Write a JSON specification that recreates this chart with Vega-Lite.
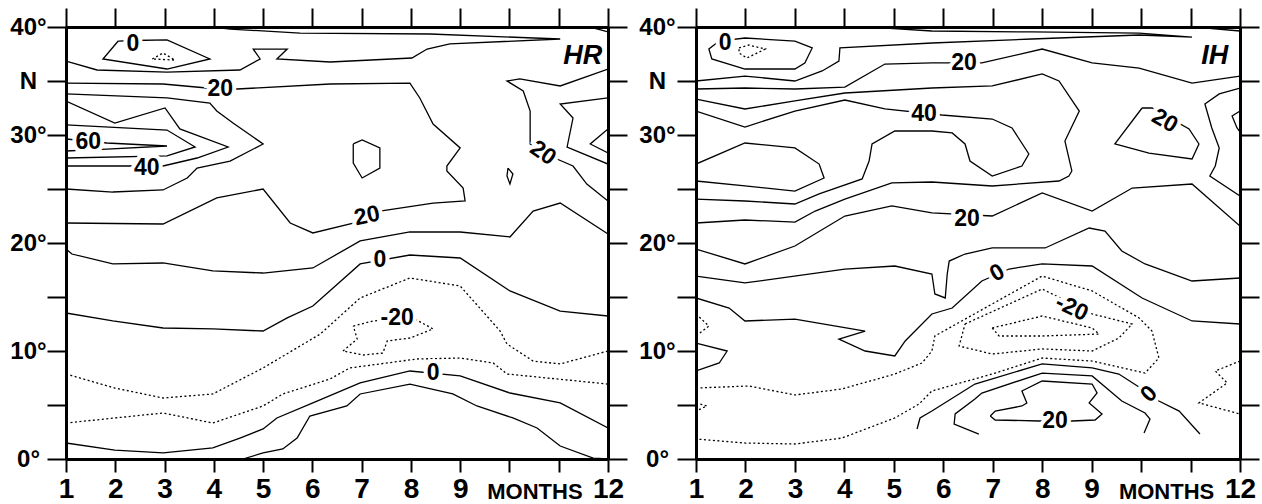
{
"$schema": "https://vega.github.io/schema/vega-lite/v6.json",
"background": "white",
"padding": {"left": 9, "top": 7, "right": 2, "bottom": 0},
"spacing": 10,
"config": {
  "view": {"stroke": null},
  "font": "Liberation Sans",
  "axis": {"domainColor": "black", "domainWidth": 3, "tickColor": "black", "tickWidth": 2, "labelColor": "black", "labelFont": "Liberation Sans", "labelFontWeight": "bold", "grid": false, "title": null, "labelOverlap": false, "labelFlush": false, "labelBound": false}
},
"datasets": {
"lines": [
{"p":"L","c":"L01","o":0,"m":2.06,"lat":38.70,"d":0},{"p":"L","c":"L01","o":1,"m":1.75,"lat":37.04,"d":0},{"p":"L","c":"L01","o":2,"m":3.05,"lat":36.11,"d":0},{"p":"L","c":"L01","o":3,"m":3.92,"lat":37.04,"d":0},{"p":"L","c":"L01","o":4,"m":3.05,"lat":38.80,"d":0},{"p":"L","c":"L01","o":5,"m":2.36,"lat":38.75,"d":0},{"p":"L","c":"L01","o":6,"m":2.06,"lat":38.70,"d":0},
{"p":"L","c":"L02","o":0,"m":2.75,"lat":37.04,"d":1},{"p":"L","c":"L02","o":1,"m":2.97,"lat":37.59,"d":1},{"p":"L","c":"L02","o":2,"m":3.21,"lat":36.94,"d":1},{"p":"L","c":"L02","o":3,"m":2.75,"lat":37.04,"d":1},
{"p":"L","c":"L03","o":0,"m":1.0,"lat":36.85,"d":0},{"p":"L","c":"L03","o":1,"m":1.63,"lat":36.02,"d":0},{"p":"L","c":"L03","o":2,"m":3.05,"lat":35.83,"d":0},{"p":"L","c":"L03","o":3,"m":4.53,"lat":36.02,"d":0},{"p":"L","c":"L03","o":4,"m":4.94,"lat":37.04,"d":0},{"p":"L","c":"L03","o":5,"m":4.80,"lat":37.96,"d":0},{"p":"L","c":"L03","o":6,"m":5.49,"lat":37.96,"d":0},{"p":"L","c":"L03","o":7,"m":5.28,"lat":37.04,"d":0},{"p":"L","c":"L03","o":8,"m":6.36,"lat":36.76,"d":0},{"p":"L","c":"L03","o":9,"m":8.02,"lat":37.13,"d":0},{"p":"L","c":"L03","o":10,"m":8.33,"lat":37.96,"d":0},{"p":"L","c":"L03","o":11,"m":8.79,"lat":38.43,"d":0},{"p":"L","c":"L03","o":12,"m":11.03,"lat":38.89,"d":0},{"p":"L","c":"L03","o":13,"m":8.39,"lat":39.35,"d":0},{"p":"L","c":"L03","o":14,"m":5.75,"lat":39.44,"d":0},{"p":"L","c":"L03","o":15,"m":4.33,"lat":39.81,"d":0},{"p":"L","c":"L03","o":16,"m":4.0,"lat":40.0,"d":0},
{"p":"L","c":"L03b","o":0,"m":11.64,"lat":40.0,"d":0},{"p":"L","c":"L03b","o":1,"m":12.0,"lat":39.54,"d":0},
{"p":"L","c":"L04","o":0,"m":1.0,"lat":34.81,"d":0},{"p":"L","c":"L04","o":1,"m":2.97,"lat":34.72,"d":0},{"p":"L","c":"L04","o":2,"m":3.86,"lat":34.35,"d":0},{"p":"L","c":"L04","o":3,"m":4.47,"lat":34.26,"d":0},{"p":"L","c":"L04","o":4,"m":6.36,"lat":34.72,"d":0},{"p":"L","c":"L04","o":5,"m":7.98,"lat":34.81,"d":0},{"p":"L","c":"L04","o":6,"m":8.18,"lat":33.43,"d":0},{"p":"L","c":"L04","o":7,"m":8.45,"lat":31.02,"d":0},{"p":"L","c":"L04","o":8,"m":9.0,"lat":28.80,"d":0},{"p":"L","c":"L04","o":9,"m":8.73,"lat":27.13,"d":0},{"p":"L","c":"L04","o":10,"m":8.73,"lat":26.67,"d":0},{"p":"L","c":"L04","o":11,"m":9.06,"lat":25.09,"d":0},{"p":"L","c":"L04","o":12,"m":9.10,"lat":23.89,"d":0},{"p":"L","c":"L04","o":13,"m":8.45,"lat":23.70,"d":0},{"p":"L","c":"L04","o":14,"m":7.37,"lat":22.96,"d":0},{"p":"L","c":"L04","o":15,"m":6.83,"lat":21.85,"d":0},{"p":"L","c":"L04","o":16,"m":6.01,"lat":20.93,"d":0},{"p":"L","c":"L04","o":17,"m":5.55,"lat":21.85,"d":0},{"p":"L","c":"L04","o":18,"m":5.0,"lat":25.0,"d":0},{"p":"L","c":"L04","o":19,"m":4.06,"lat":24.17,"d":0},{"p":"L","c":"L04","o":20,"m":2.97,"lat":21.76,"d":0},{"p":"L","c":"L04","o":21,"m":1.0,"lat":21.85,"d":0},
{"p":"L","c":"L05","o":0,"m":1.0,"lat":33.80,"d":0},{"p":"L","c":"L05","o":1,"m":3.05,"lat":33.43,"d":0},{"p":"L","c":"L05","o":2,"m":3.92,"lat":32.96,"d":0},{"p":"L","c":"L05","o":3,"m":4.06,"lat":32.22,"d":0},{"p":"L","c":"L05","o":4,"m":4.39,"lat":31.11,"d":0},{"p":"L","c":"L05","o":5,"m":5.0,"lat":29.17,"d":0},{"p":"L","c":"L05","o":6,"m":4.33,"lat":27.59,"d":0},{"p":"L","c":"L05","o":7,"m":3.66,"lat":26.94,"d":0},{"p":"L","c":"L05","o":8,"m":3.46,"lat":26.02,"d":0},{"p":"L","c":"L05","o":9,"m":2.97,"lat":24.91,"d":0},{"p":"L","c":"L05","o":10,"m":1.95,"lat":24.72,"d":0},{"p":"L","c":"L05","o":11,"m":1.0,"lat":25.0,"d":0},
{"p":"L","c":"L06","o":0,"m":1.0,"lat":33.15,"d":0},{"p":"L","c":"L06","o":1,"m":1.99,"lat":31.11,"d":0},{"p":"L","c":"L06","o":2,"m":3.01,"lat":32.50,"d":0},{"p":"L","c":"L06","o":3,"m":3.31,"lat":30.56,"d":0},{"p":"L","c":"L06","o":4,"m":4.29,"lat":28.89,"d":0},{"p":"L","c":"L06","o":5,"m":3.66,"lat":27.87,"d":0},{"p":"L","c":"L06","o":6,"m":2.97,"lat":27.13,"d":0},{"p":"L","c":"L06","o":7,"m":2.24,"lat":27.13,"d":0},{"p":"L","c":"L06","o":8,"m":1.0,"lat":27.13,"d":0},
{"p":"L","c":"L07","o":0,"m":1.0,"lat":30.93,"d":0},{"p":"L","c":"L07","o":1,"m":3.05,"lat":30.46,"d":0},{"p":"L","c":"L07","o":2,"m":3.62,"lat":28.89,"d":0},{"p":"L","c":"L07","o":3,"m":3.05,"lat":28.06,"d":0},{"p":"L","c":"L07","o":4,"m":1.0,"lat":27.87,"d":0},
{"p":"L","c":"L08","o":0,"m":1.0,"lat":29.63,"d":0},{"p":"L","c":"L08","o":1,"m":1.83,"lat":29.26,"d":0},{"p":"L","c":"L08","o":2,"m":3.05,"lat":28.98,"d":0},{"p":"L","c":"L08","o":3,"m":1.83,"lat":28.70,"d":0},{"p":"L","c":"L08","o":4,"m":1.0,"lat":28.52,"d":0},
{"p":"L","c":"L09","o":0,"m":12.0,"lat":36.11,"d":0},{"p":"L","c":"L09","o":1,"m":11.03,"lat":34.54,"d":0},{"p":"L","c":"L09","o":2,"m":10.21,"lat":35.19,"d":0},{"p":"L","c":"L09","o":3,"m":9.95,"lat":35.0,"d":0},{"p":"L","c":"L09","o":4,"m":10.28,"lat":34.07,"d":0},{"p":"L","c":"L09","o":5,"m":10.42,"lat":32.22,"d":0},{"p":"L","c":"L09","o":6,"m":10.42,"lat":29.17,"d":0},{"p":"L","c":"L09","o":7,"m":10.68,"lat":28.33,"d":0},{"p":"L","c":"L09","o":8,"m":11.29,"lat":27.13,"d":0},{"p":"L","c":"L09","o":9,"m":11.57,"lat":25.46,"d":0},{"p":"L","c":"L09","o":10,"m":12.0,"lat":23.89,"d":0},
{"p":"L","c":"L10","o":0,"m":12.0,"lat":33.43,"d":0},{"p":"L","c":"L10","o":1,"m":11.03,"lat":32.87,"d":0},{"p":"L","c":"L10","o":2,"m":11.29,"lat":31.57,"d":0},{"p":"L","c":"L10","o":3,"m":11.17,"lat":28.89,"d":0},{"p":"L","c":"L10","o":4,"m":12.0,"lat":27.31,"d":0},
{"p":"L","c":"L11","o":0,"m":12.0,"lat":30.56,"d":0},{"p":"L","c":"L11","o":1,"m":11.64,"lat":29.17,"d":0},{"p":"L","c":"L11","o":2,"m":12.0,"lat":28.33,"d":0},
{"p":"L","c":"L12","o":0,"m":6.83,"lat":29.17,"d":0},{"p":"L","c":"L12","o":1,"m":7.01,"lat":29.54,"d":0},{"p":"L","c":"L12","o":2,"m":7.37,"lat":28.80,"d":0},{"p":"L","c":"L12","o":3,"m":7.37,"lat":26.94,"d":0},{"p":"L","c":"L12","o":4,"m":7.01,"lat":26.02,"d":0},{"p":"L","c":"L12","o":5,"m":6.83,"lat":27.41,"d":0},{"p":"L","c":"L12","o":6,"m":6.83,"lat":29.17,"d":0},
{"p":"L","c":"L13","o":0,"m":9.97,"lat":26.94,"d":0},{"p":"L","c":"L13","o":1,"m":10.07,"lat":26.39,"d":0},{"p":"L","c":"L13","o":2,"m":10.01,"lat":25.46,"d":0},{"p":"L","c":"L13","o":3,"m":9.95,"lat":26.20,"d":0},{"p":"L","c":"L13","o":4,"m":9.97,"lat":26.94,"d":0},
{"p":"L","c":"L14","o":0,"m":1.0,"lat":19.44,"d":0},{"p":"L","c":"L14","o":1,"m":1.12,"lat":18.98,"d":0},{"p":"L","c":"L14","o":2,"m":1.95,"lat":18.06,"d":0},{"p":"L","c":"L14","o":3,"m":2.97,"lat":18.15,"d":0},{"p":"L","c":"L14","o":4,"m":3.98,"lat":17.41,"d":0},{"p":"L","c":"L14","o":5,"m":5.0,"lat":17.22,"d":0},{"p":"L","c":"L14","o":6,"m":6.01,"lat":17.69,"d":0},{"p":"L","c":"L14","o":7,"m":6.97,"lat":20.19,"d":0},{"p":"L","c":"L14","o":8,"m":7.98,"lat":21.02,"d":0},{"p":"L","c":"L14","o":9,"m":9.0,"lat":21.02,"d":0},{"p":"L","c":"L14","o":10,"m":10.01,"lat":20.56,"d":0},{"p":"L","c":"L14","o":11,"m":10.48,"lat":22.96,"d":0},{"p":"L","c":"L14","o":12,"m":11.03,"lat":23.70,"d":0},{"p":"L","c":"L14","o":13,"m":12.0,"lat":20.83,"d":0},
{"p":"L","c":"L15","o":0,"m":1.0,"lat":13.52,"d":0},{"p":"L","c":"L15","o":1,"m":1.95,"lat":12.78,"d":0},{"p":"L","c":"L15","o":2,"m":2.97,"lat":12.13,"d":0},{"p":"L","c":"L15","o":3,"m":3.98,"lat":12.04,"d":0},{"p":"L","c":"L15","o":4,"m":5.0,"lat":11.85,"d":0},{"p":"L","c":"L15","o":5,"m":5.49,"lat":13.06,"d":0},{"p":"L","c":"L15","o":6,"m":6.01,"lat":14.17,"d":0},{"p":"L","c":"L15","o":7,"m":6.97,"lat":18.06,"d":0},{"p":"L","c":"L15","o":8,"m":7.98,"lat":18.89,"d":0},{"p":"L","c":"L15","o":9,"m":9.0,"lat":18.61,"d":0},{"p":"L","c":"L15","o":10,"m":10.01,"lat":15.56,"d":0},{"p":"L","c":"L15","o":11,"m":11.03,"lat":13.70,"d":0},{"p":"L","c":"L15","o":12,"m":12.0,"lat":13.24,"d":0},
{"p":"L","c":"L16","o":0,"m":1.0,"lat":7.87,"d":1},{"p":"L","c":"L16","o":1,"m":1.99,"lat":6.57,"d":1},{"p":"L","c":"L16","o":2,"m":2.97,"lat":5.65,"d":1},{"p":"L","c":"L16","o":3,"m":3.98,"lat":6.02,"d":1},{"p":"L","c":"L16","o":4,"m":5.0,"lat":8.43,"d":1},{"p":"L","c":"L16","o":5,"m":5.75,"lat":10.46,"d":1},{"p":"L","c":"L16","o":6,"m":6.16,"lat":11.57,"d":1},{"p":"L","c":"L16","o":7,"m":6.97,"lat":14.91,"d":1},{"p":"L","c":"L16","o":8,"m":7.98,"lat":16.76,"d":1},{"p":"L","c":"L16","o":9,"m":9.0,"lat":16.02,"d":1},{"p":"L","c":"L16","o":10,"m":9.81,"lat":11.85,"d":1},{"p":"L","c":"L16","o":11,"m":9.95,"lat":10.65,"d":1},{"p":"L","c":"L16","o":12,"m":10.48,"lat":9.07,"d":1},{"p":"L","c":"L16","o":13,"m":11.03,"lat":8.80,"d":1},{"p":"L","c":"L16","o":14,"m":12.0,"lat":10.0,"d":1},
{"p":"L","c":"L17","o":0,"m":6.83,"lat":12.31,"d":1},{"p":"L","c":"L17","o":1,"m":7.23,"lat":12.78,"d":1},{"p":"L","c":"L17","o":2,"m":8.04,"lat":13.06,"d":1},{"p":"L","c":"L17","o":3,"m":8.45,"lat":12.04,"d":1},{"p":"L","c":"L17","o":4,"m":7.98,"lat":11.20,"d":1},{"p":"L","c":"L17","o":5,"m":7.52,"lat":10.93,"d":1},{"p":"L","c":"L17","o":6,"m":7.43,"lat":9.81,"d":1},{"p":"L","c":"L17","o":7,"m":7.03,"lat":9.63,"d":1},{"p":"L","c":"L17","o":8,"m":6.62,"lat":10.0,"d":1},{"p":"L","c":"L17","o":9,"m":6.91,"lat":11.11,"d":1},{"p":"L","c":"L17","o":10,"m":6.83,"lat":12.31,"d":1},
{"p":"L","c":"L18","o":0,"m":1.0,"lat":3.33,"d":1},{"p":"L","c":"L18","o":1,"m":2.97,"lat":4.26,"d":1},{"p":"L","c":"L18","o":2,"m":3.98,"lat":3.33,"d":1},{"p":"L","c":"L18","o":3,"m":5.0,"lat":4.91,"d":1},{"p":"L","c":"L18","o":4,"m":5.40,"lat":6.02,"d":1},{"p":"L","c":"L18","o":5,"m":6.36,"lat":7.41,"d":1},{"p":"L","c":"L18","o":6,"m":6.76,"lat":8.43,"d":1},{"p":"L","c":"L18","o":7,"m":8.12,"lat":9.26,"d":1},{"p":"L","c":"L18","o":8,"m":9.0,"lat":9.35,"d":1},{"p":"L","c":"L18","o":9,"m":9.67,"lat":8.89,"d":1},{"p":"L","c":"L18","o":10,"m":9.95,"lat":7.87,"d":1},{"p":"L","c":"L18","o":11,"m":12.0,"lat":6.94,"d":1},
{"p":"L","c":"L19","o":0,"m":1.0,"lat":1.48,"d":0},{"p":"L","c":"L19","o":1,"m":1.99,"lat":0.83,"d":0},{"p":"L","c":"L19","o":2,"m":2.97,"lat":0.56,"d":0},{"p":"L","c":"L19","o":3,"m":3.98,"lat":1.02,"d":0},{"p":"L","c":"L19","o":4,"m":4.53,"lat":1.94,"d":0},{"p":"L","c":"L19","o":5,"m":5.0,"lat":2.78,"d":0},{"p":"L","c":"L19","o":6,"m":5.28,"lat":3.80,"d":0},{"p":"L","c":"L19","o":7,"m":6.01,"lat":5.19,"d":0},{"p":"L","c":"L19","o":8,"m":6.97,"lat":7.04,"d":0},{"p":"L","c":"L19","o":9,"m":7.98,"lat":8.15,"d":0},{"p":"L","c":"L19","o":10,"m":9.0,"lat":7.69,"d":0},{"p":"L","c":"L19","o":11,"m":10.01,"lat":6.11,"d":0},{"p":"L","c":"L19","o":12,"m":11.03,"lat":5.19,"d":0},{"p":"L","c":"L19","o":13,"m":12.0,"lat":2.87,"d":0},
{"p":"L","c":"L20","o":0,"m":4.59,"lat":0.0,"d":0},{"p":"L","c":"L20","o":1,"m":5.0,"lat":0.56,"d":0},{"p":"L","c":"L20","o":2,"m":5.40,"lat":0.93,"d":0},{"p":"L","c":"L20","o":3,"m":5.69,"lat":1.94,"d":0},{"p":"L","c":"L20","o":4,"m":5.95,"lat":3.98,"d":0},{"p":"L","c":"L20","o":5,"m":6.70,"lat":4.91,"d":0},{"p":"L","c":"L20","o":6,"m":6.97,"lat":6.02,"d":0},{"p":"L","c":"L20","o":7,"m":7.98,"lat":6.94,"d":0},{"p":"L","c":"L20","o":8,"m":8.85,"lat":6.02,"d":0},{"p":"L","c":"L20","o":9,"m":9.34,"lat":4.91,"d":0},{"p":"L","c":"L20","o":10,"m":10.07,"lat":3.80,"d":0},{"p":"L","c":"L20","o":11,"m":10.56,"lat":2.87,"d":0},{"p":"L","c":"L20","o":12,"m":11.03,"lat":1.20,"d":0},{"p":"L","c":"L20","o":13,"m":11.70,"lat":0.09,"d":0},{"p":"L","c":"L20","o":14,"m":12.0,"lat":0.0,"d":0},

{"p":"R","c":"R01","o":0,"m":1.47,"lat":38.70,"d":0},{"p":"R","c":"R01","o":1,"m":1.99,"lat":38.98,"d":0},{"p":"R","c":"R01","o":2,"m":3.0,"lat":38.70,"d":0},{"p":"R","c":"R01","o":3,"m":3.35,"lat":38.06,"d":0},{"p":"R","c":"R01","o":4,"m":3.20,"lat":36.67,"d":0},{"p":"R","c":"R01","o":5,"m":3.0,"lat":36.11,"d":0},{"p":"R","c":"R01","o":6,"m":1.99,"lat":36.11,"d":0},{"p":"R","c":"R01","o":7,"m":1.32,"lat":37.04,"d":0},{"p":"R","c":"R01","o":8,"m":1.26,"lat":37.96,"d":0},{"p":"R","c":"R01","o":9,"m":1.47,"lat":38.70,"d":0},
{"p":"R","c":"R02","o":0,"m":1.87,"lat":38.06,"d":1},{"p":"R","c":"R02","o":1,"m":2.07,"lat":38.33,"d":1},{"p":"R","c":"R02","o":2,"m":2.40,"lat":37.96,"d":1},{"p":"R","c":"R02","o":3,"m":2.03,"lat":37.13,"d":1},{"p":"R","c":"R02","o":4,"m":1.87,"lat":37.59,"d":1},{"p":"R","c":"R02","o":5,"m":1.87,"lat":38.06,"d":1},
{"p":"R","c":"R03","o":0,"m":1.0,"lat":35.0,"d":0},{"p":"R","c":"R03","o":1,"m":1.99,"lat":35.46,"d":0},{"p":"R","c":"R03","o":2,"m":3.0,"lat":35.0,"d":0},{"p":"R","c":"R03","o":3,"m":3.55,"lat":35.93,"d":0},{"p":"R","c":"R03","o":4,"m":3.89,"lat":36.85,"d":0},{"p":"R","c":"R03","o":5,"m":3.91,"lat":38.06,"d":0},{"p":"R","c":"R03","o":6,"m":5.77,"lat":38.52,"d":0},{"p":"R","c":"R03","o":7,"m":7.79,"lat":38.89,"d":0},{"p":"R","c":"R03","o":8,"m":9.96,"lat":39.26,"d":0},{"p":"R","c":"R03","o":9,"m":11.03,"lat":39.07,"d":0},{"p":"R","c":"R03","o":10,"m":9.96,"lat":39.44,"d":0},{"p":"R","c":"R03","o":11,"m":7.79,"lat":39.54,"d":0},{"p":"R","c":"R03","o":12,"m":5.77,"lat":39.63,"d":0},{"p":"R","c":"R03","o":13,"m":4.76,"lat":39.91,"d":0},
{"p":"R","c":"R03b","o":0,"m":11.09,"lat":40.0,"d":0},{"p":"R","c":"R03b","o":1,"m":12.0,"lat":39.63,"d":0},
{"p":"R","c":"R04","o":0,"m":1.0,"lat":34.26,"d":0},{"p":"R","c":"R04","o":1,"m":1.99,"lat":34.35,"d":0},{"p":"R","c":"R04","o":2,"m":3.0,"lat":34.26,"d":0},{"p":"R","c":"R04","o":3,"m":4.01,"lat":34.44,"d":0},{"p":"R","c":"R04","o":4,"m":4.82,"lat":36.57,"d":0},{"p":"R","c":"R04","o":5,"m":5.77,"lat":36.67,"d":0},{"p":"R","c":"R04","o":6,"m":6.78,"lat":36.67,"d":0},{"p":"R","c":"R04","o":7,"m":8.0,"lat":37.96,"d":0},{"p":"R","c":"R04","o":8,"m":9.01,"lat":36.67,"d":0},{"p":"R","c":"R04","o":9,"m":9.96,"lat":36.20,"d":0},{"p":"R","c":"R04","o":10,"m":11.03,"lat":34.81,"d":0},{"p":"R","c":"R04","o":11,"m":12.0,"lat":35.46,"d":0},
{"p":"R","c":"R05","o":0,"m":1.0,"lat":33.33,"d":0},{"p":"R","c":"R05","o":1,"m":1.99,"lat":32.41,"d":0},{"p":"R","c":"R05","o":2,"m":3.0,"lat":33.15,"d":0},{"p":"R","c":"R05","o":3,"m":4.01,"lat":33.89,"d":0},{"p":"R","c":"R05","o":4,"m":5.77,"lat":34.35,"d":0},{"p":"R","c":"R05","o":5,"m":6.99,"lat":34.54,"d":0},{"p":"R","c":"R05","o":6,"m":8.0,"lat":35.65,"d":0},{"p":"R","c":"R05","o":7,"m":8.34,"lat":35.0,"d":0},{"p":"R","c":"R05","o":8,"m":8.75,"lat":32.22,"d":0},{"p":"R","c":"R05","o":9,"m":8.46,"lat":29.44,"d":0},{"p":"R","c":"R05","o":10,"m":8.60,"lat":26.67,"d":0},{"p":"R","c":"R05","o":11,"m":8.54,"lat":26.20,"d":0},{"p":"R","c":"R05","o":12,"m":8.34,"lat":25.74,"d":0},{"p":"R","c":"R05","o":13,"m":6.99,"lat":25.28,"d":0},{"p":"R","c":"R05","o":14,"m":5.77,"lat":25.65,"d":0},{"p":"R","c":"R05","o":15,"m":4.96,"lat":25.56,"d":0},{"p":"R","c":"R05","o":16,"m":4.01,"lat":24.07,"d":0},{"p":"R","c":"R05","o":17,"m":3.41,"lat":22.96,"d":0},{"p":"R","c":"R05","o":18,"m":3.0,"lat":21.94,"d":0},{"p":"R","c":"R05","o":19,"m":1.99,"lat":22.13,"d":0},{"p":"R","c":"R05","o":20,"m":1.0,"lat":21.85,"d":0},
{"p":"R","c":"R06","o":0,"m":1.0,"lat":27.31,"d":0},{"p":"R","c":"R06","o":1,"m":1.99,"lat":29.26,"d":0},{"p":"R","c":"R06","o":2,"m":3.0,"lat":28.80,"d":0},{"p":"R","c":"R06","o":3,"m":3.49,"lat":27.31,"d":0},{"p":"R","c":"R06","o":4,"m":3.59,"lat":26.02,"d":0},{"p":"R","c":"R06","o":5,"m":3.0,"lat":24.81,"d":0},{"p":"R","c":"R06","o":6,"m":1.99,"lat":25.28,"d":0},{"p":"R","c":"R06","o":7,"m":1.0,"lat":25.74,"d":0},
{"p":"R","c":"R07","o":0,"m":1.0,"lat":32.22,"d":0},{"p":"R","c":"R07","o":1,"m":1.99,"lat":30.74,"d":0},{"p":"R","c":"R07","o":2,"m":3.0,"lat":32.22,"d":0},{"p":"R","c":"R07","o":3,"m":4.01,"lat":33.24,"d":0},{"p":"R","c":"R07","o":4,"m":4.82,"lat":32.41,"d":0},{"p":"R","c":"R07","o":5,"m":5.97,"lat":31.85,"d":0},{"p":"R","c":"R07","o":6,"m":6.99,"lat":31.48,"d":0},{"p":"R","c":"R07","o":7,"m":7.39,"lat":30.65,"d":0},{"p":"R","c":"R07","o":8,"m":7.73,"lat":28.24,"d":0},{"p":"R","c":"R07","o":9,"m":7.59,"lat":27.13,"d":0},{"p":"R","c":"R07","o":10,"m":6.99,"lat":26.20,"d":0},{"p":"R","c":"R07","o":11,"m":6.54,"lat":27.59,"d":0},{"p":"R","c":"R07","o":12,"m":6.44,"lat":29.17,"d":0},{"p":"R","c":"R07","o":13,"m":6.18,"lat":30.19,"d":0},{"p":"R","c":"R07","o":14,"m":5.77,"lat":30.37,"d":0},{"p":"R","c":"R07","o":15,"m":5.02,"lat":30.37,"d":0},{"p":"R","c":"R07","o":16,"m":4.56,"lat":29.17,"d":0},{"p":"R","c":"R07","o":17,"m":4.50,"lat":27.59,"d":0},{"p":"R","c":"R07","o":18,"m":4.36,"lat":25.93,"d":0},{"p":"R","c":"R07","o":19,"m":3.49,"lat":24.54,"d":0},{"p":"R","c":"R07","o":20,"m":3.0,"lat":23.61,"d":0},{"p":"R","c":"R07","o":21,"m":1.99,"lat":23.89,"d":0},{"p":"R","c":"R07","o":22,"m":1.0,"lat":24.07,"d":0},
{"p":"R","c":"R08","o":0,"m":12.0,"lat":34.35,"d":0},{"p":"R","c":"R08","o":1,"m":11.58,"lat":33.80,"d":0},{"p":"R","c":"R08","o":2,"m":11.29,"lat":32.87,"d":0},{"p":"R","c":"R08","o":3,"m":11.43,"lat":30.65,"d":0},{"p":"R","c":"R08","o":4,"m":11.58,"lat":28.80,"d":0},{"p":"R","c":"R08","o":5,"m":11.50,"lat":27.13,"d":0},{"p":"R","c":"R08","o":6,"m":11.39,"lat":26.20,"d":0},{"p":"R","c":"R08","o":7,"m":12.0,"lat":24.35,"d":0},
{"p":"R","c":"R09","o":0,"m":12.0,"lat":32.22,"d":0},{"p":"R","c":"R09","o":1,"m":11.84,"lat":31.76,"d":0},{"p":"R","c":"R09","o":2,"m":11.94,"lat":30.65,"d":0},{"p":"R","c":"R09","o":3,"m":12.0,"lat":30.3,"d":0},
{"p":"R","c":"R10","o":0,"m":10.02,"lat":32.50,"d":0},{"p":"R","c":"R10","o":1,"m":9.47,"lat":29.17,"d":0},{"p":"R","c":"R10","o":2,"m":10.16,"lat":28.33,"d":0},{"p":"R","c":"R10","o":3,"m":11.03,"lat":27.78,"d":0},{"p":"R","c":"R10","o":4,"m":11.17,"lat":29.17,"d":0},{"p":"R","c":"R10","o":5,"m":10.97,"lat":30.56,"d":0},{"p":"R","c":"R10","o":6,"m":10.22,"lat":32.50,"d":0},{"p":"R","c":"R10","o":7,"m":10.02,"lat":32.50,"d":0},
{"p":"R","c":"R11","o":0,"m":1.0,"lat":19.44,"d":0},{"p":"R","c":"R11","o":1,"m":1.99,"lat":18.06,"d":0},{"p":"R","c":"R11","o":2,"m":3.0,"lat":19.72,"d":0},{"p":"R","c":"R11","o":3,"m":4.01,"lat":22.50,"d":0},{"p":"R","c":"R11","o":4,"m":4.96,"lat":23.43,"d":0},{"p":"R","c":"R11","o":5,"m":5.77,"lat":22.78,"d":0},{"p":"R","c":"R11","o":6,"m":6.99,"lat":22.50,"d":0},{"p":"R","c":"R11","o":7,"m":8.0,"lat":24.63,"d":0},{"p":"R","c":"R11","o":8,"m":9.01,"lat":22.96,"d":0},{"p":"R","c":"R11","o":9,"m":9.82,"lat":25.09,"d":0},{"p":"R","c":"R11","o":10,"m":11.03,"lat":25.46,"d":0},{"p":"R","c":"R11","o":11,"m":12.0,"lat":21.57,"d":0},
{"p":"R","c":"R12","o":0,"m":1.0,"lat":16.94,"d":0},{"p":"R","c":"R12","o":1,"m":1.99,"lat":16.30,"d":0},{"p":"R","c":"R12","o":2,"m":4.01,"lat":17.59,"d":0},{"p":"R","c":"R12","o":3,"m":5.02,"lat":17.87,"d":0},{"p":"R","c":"R12","o":4,"m":5.77,"lat":17.13,"d":0},{"p":"R","c":"R12","o":5,"m":5.83,"lat":15.28,"d":0},{"p":"R","c":"R12","o":6,"m":6.04,"lat":14.91,"d":0},{"p":"R","c":"R12","o":7,"m":6.08,"lat":17.13,"d":0},{"p":"R","c":"R12","o":8,"m":6.12,"lat":18.33,"d":0},{"p":"R","c":"R12","o":9,"m":6.44,"lat":18.98,"d":0},{"p":"R","c":"R12","o":10,"m":6.99,"lat":19.54,"d":0},{"p":"R","c":"R12","o":11,"m":8.06,"lat":19.54,"d":0},{"p":"R","c":"R12","o":12,"m":8.95,"lat":21.39,"d":0},{"p":"R","c":"R12","o":13,"m":9.27,"lat":21.11,"d":0},{"p":"R","c":"R12","o":14,"m":9.61,"lat":19.26,"d":0},{"p":"R","c":"R12","o":15,"m":10.08,"lat":18.06,"d":0},{"p":"R","c":"R12","o":16,"m":11.03,"lat":16.48,"d":0},{"p":"R","c":"R12","o":17,"m":12.0,"lat":16.76,"d":0},
{"p":"R","c":"R13","o":0,"m":1.0,"lat":14.91,"d":0},{"p":"R","c":"R13","o":1,"m":1.67,"lat":13.98,"d":0},{"p":"R","c":"R13","o":2,"m":1.99,"lat":12.78,"d":0},{"p":"R","c":"R13","o":3,"m":3.0,"lat":12.96,"d":0},{"p":"R","c":"R13","o":4,"m":4.42,"lat":11.85,"d":0},{"p":"R","c":"R13","o":5,"m":3.89,"lat":11.11,"d":0},{"p":"R","c":"R13","o":6,"m":4.42,"lat":10.0,"d":0},{"p":"R","c":"R13","o":7,"m":5.02,"lat":9.54,"d":0},{"p":"R","c":"R13","o":8,"m":5.23,"lat":10.93,"d":0},{"p":"R","c":"R13","o":9,"m":5.77,"lat":13.43,"d":0},{"p":"R","c":"R13","o":10,"m":6.18,"lat":13.98,"d":0},{"p":"R","c":"R13","o":11,"m":6.78,"lat":16.48,"d":0},{"p":"R","c":"R13","o":12,"m":7.33,"lat":17.59,"d":0},{"p":"R","c":"R13","o":13,"m":8.0,"lat":18.06,"d":0},{"p":"R","c":"R13","o":14,"m":9.01,"lat":17.87,"d":0},{"p":"R","c":"R13","o":15,"m":10.02,"lat":14.91,"d":0},{"p":"R","c":"R13","o":16,"m":11.03,"lat":12.78,"d":0},{"p":"R","c":"R13","o":17,"m":12.0,"lat":12.50,"d":0},
{"p":"R","c":"R14","o":0,"m":1.0,"lat":10.74,"d":0},{"p":"R","c":"R14","o":1,"m":1.63,"lat":10.0,"d":0},{"p":"R","c":"R14","o":2,"m":1.47,"lat":8.89,"d":0},{"p":"R","c":"R14","o":3,"m":1.0,"lat":8.15,"d":0},
{"p":"R","c":"R15","o":0,"m":1.0,"lat":6.57,"d":1},{"p":"R","c":"R15","o":1,"m":2.07,"lat":6.76,"d":1},{"p":"R","c":"R15","o":2,"m":3.0,"lat":5.93,"d":1},{"p":"R","c":"R15","o":3,"m":3.95,"lat":6.48,"d":1},{"p":"R","c":"R15","o":4,"m":5.02,"lat":7.87,"d":1},{"p":"R","c":"R15","o":5,"m":5.57,"lat":8.89,"d":1},{"p":"R","c":"R15","o":6,"m":5.77,"lat":10.0,"d":1},{"p":"R","c":"R15","o":7,"m":5.83,"lat":11.39,"d":1},{"p":"R","c":"R15","o":8,"m":8.0,"lat":16.94,"d":1},{"p":"R","c":"R15","o":9,"m":9.01,"lat":15.56,"d":1},{"p":"R","c":"R15","o":10,"m":9.96,"lat":13.06,"d":1},{"p":"R","c":"R15","o":11,"m":10.22,"lat":11.85,"d":1},{"p":"R","c":"R15","o":12,"m":10.36,"lat":9.35,"d":1},{"p":"R","c":"R15","o":13,"m":10.08,"lat":7.96,"d":1},{"p":"R","c":"R15","o":14,"m":9.01,"lat":9.07,"d":1},{"p":"R","c":"R15","o":15,"m":8.0,"lat":9.35,"d":1},{"p":"R","c":"R15","o":16,"m":6.99,"lat":7.87,"d":1},{"p":"R","c":"R15","o":17,"m":5.77,"lat":6.30,"d":1},{"p":"R","c":"R15","o":18,"m":5.51,"lat":5.09,"d":1},{"p":"R","c":"R15","o":19,"m":5.02,"lat":3.80,"d":1},{"p":"R","c":"R15","o":20,"m":3.95,"lat":1.94,"d":1},{"p":"R","c":"R15","o":21,"m":3.0,"lat":1.39,"d":1},{"p":"R","c":"R15","o":22,"m":1.99,"lat":1.48,"d":1},{"p":"R","c":"R15","o":23,"m":1.0,"lat":1.85,"d":1},
{"p":"R","c":"R16","o":0,"m":6.44,"lat":12.50,"d":1},{"p":"R","c":"R16","o":1,"m":8.0,"lat":15.74,"d":1},{"p":"R","c":"R16","o":2,"m":9.01,"lat":13.43,"d":1},{"p":"R","c":"R16","o":3,"m":9.82,"lat":12.50,"d":1},{"p":"R","c":"R16","o":4,"m":9.55,"lat":11.20,"d":1},{"p":"R","c":"R16","o":5,"m":9.01,"lat":10.0,"d":1},{"p":"R","c":"R16","o":6,"m":8.0,"lat":10.19,"d":1},{"p":"R","c":"R16","o":7,"m":6.99,"lat":9.72,"d":1},{"p":"R","c":"R16","o":8,"m":6.32,"lat":10.46,"d":1},{"p":"R","c":"R16","o":9,"m":6.44,"lat":12.50,"d":1},
{"p":"R","c":"R16b","o":0,"m":6.99,"lat":12.13,"d":1},{"p":"R","c":"R16b","o":1,"m":8.0,"lat":13.24,"d":1},{"p":"R","c":"R16b","o":2,"m":9.01,"lat":12.13,"d":1},{"p":"R","c":"R16b","o":3,"m":9.15,"lat":11.57,"d":1},{"p":"R","c":"R16b","o":4,"m":8.0,"lat":11.39,"d":1},{"p":"R","c":"R16b","o":5,"m":7.13,"lat":11.39,"d":1},{"p":"R","c":"R16b","o":6,"m":6.99,"lat":12.13,"d":1},
{"p":"R","c":"R17","o":0,"m":5.47,"lat":2.78,"d":0},{"p":"R","c":"R17","o":1,"m":5.53,"lat":3.80,"d":0},{"p":"R","c":"R17","o":2,"m":5.77,"lat":4.44,"d":0},{"p":"R","c":"R17","o":3,"m":6.64,"lat":6.94,"d":0},{"p":"R","c":"R17","o":4,"m":8.0,"lat":8.80,"d":0},{"p":"R","c":"R17","o":5,"m":9.01,"lat":8.43,"d":0},{"p":"R","c":"R17","o":6,"m":9.55,"lat":7.87,"d":0},{"p":"R","c":"R17","o":7,"m":10.02,"lat":6.48,"d":0},{"p":"R","c":"R17","o":8,"m":10.36,"lat":5.37,"d":0},{"p":"R","c":"R17","o":9,"m":10.77,"lat":4.44,"d":0},{"p":"R","c":"R17","o":10,"m":11.19,"lat":2.31,"d":0},
{"p":"R","c":"R18","o":0,"m":6.72,"lat":2.31,"d":0},{"p":"R","c":"R18","o":1,"m":6.22,"lat":3.24,"d":0},{"p":"R","c":"R18","o":2,"m":6.24,"lat":4.17,"d":0},{"p":"R","c":"R18","o":3,"m":6.64,"lat":5.56,"d":0},{"p":"R","c":"R18","o":4,"m":6.78,"lat":6.11,"d":0},{"p":"R","c":"R18","o":5,"m":8.0,"lat":7.96,"d":0},{"p":"R","c":"R18","o":6,"m":9.01,"lat":7.69,"d":0},{"p":"R","c":"R18","o":7,"m":9.61,"lat":5.37,"d":0},{"p":"R","c":"R18","o":8,"m":10.08,"lat":4.26,"d":0},{"p":"R","c":"R18","o":9,"m":10.18,"lat":3.70,"d":0},{"p":"R","c":"R18","o":10,"m":10.06,"lat":2.41,"d":0},
{"p":"R","c":"R19","o":0,"m":6.95,"lat":3.98,"d":0},{"p":"R","c":"R19","o":1,"m":7.05,"lat":4.44,"d":0},{"p":"R","c":"R19","o":2,"m":7.59,"lat":4.91,"d":0},{"p":"R","c":"R19","o":3,"m":7.69,"lat":5.19,"d":0},{"p":"R","c":"R19","o":4,"m":7.59,"lat":6.30,"d":0},{"p":"R","c":"R19","o":5,"m":8.0,"lat":7.22,"d":0},{"p":"R","c":"R19","o":6,"m":9.01,"lat":6.94,"d":0},{"p":"R","c":"R19","o":7,"m":9.11,"lat":6.11,"d":0},{"p":"R","c":"R19","o":8,"m":8.95,"lat":5.19,"d":0},{"p":"R","c":"R19","o":9,"m":9.21,"lat":4.17,"d":0},{"p":"R","c":"R19","o":10,"m":9.07,"lat":3.61,"d":0},{"p":"R","c":"R19","o":11,"m":8.60,"lat":3.52,"d":0},{"p":"R","c":"R19","o":12,"m":7.94,"lat":3.52,"d":0},{"p":"R","c":"R19","o":13,"m":7.05,"lat":3.61,"d":0},{"p":"R","c":"R19","o":14,"m":6.95,"lat":3.98,"d":0},
{"p":"R","c":"R20","o":0,"m":12.0,"lat":9.07,"d":1},{"p":"R","c":"R20","o":1,"m":11.50,"lat":8.15,"d":1},{"p":"R","c":"R20","o":2,"m":11.74,"lat":7.04,"d":1},{"p":"R","c":"R20","o":3,"m":11.17,"lat":5.19,"d":1},{"p":"R","c":"R20","o":4,"m":12.0,"lat":4.17,"d":1},
{"p":"R","c":"R21","o":0,"m":1.0,"lat":5.19,"d":1},{"p":"R","c":"R21","o":1,"m":1.22,"lat":4.91,"d":1},{"p":"R","c":"R21","o":2,"m":1.0,"lat":4.44,"d":1},
{"p":"R","c":"R22","o":0,"m":1.0,"lat":13.43,"d":1},{"p":"R","c":"R22","o":1,"m":1.26,"lat":12.31,"d":1},{"p":"R","c":"R22","o":2,"m":1.0,"lat":11.39,"d":1}
],
"labels": [
{"p":"L","m":2.36,"lat":38.4,"s":"0","a":0},{"p":"L","m":4.13,"lat":34.26,"s":"20","a":0},{"p":"L","m":1.45,"lat":29.35,"s":"60","a":0},{"p":"L","m":2.64,"lat":26.94,"s":"40","a":0},{"p":"L","m":10.68,"lat":28.33,"s":"20","a":35},{"p":"L","m":7.11,"lat":22.5,"s":"20","a":-12},{"p":"L","m":7.37,"lat":18.43,"s":"0","a":0},{"p":"L","m":7.72,"lat":13.06,"s":"-20","a":0},{"p":"L","m":8.45,"lat":7.96,"s":"0","a":0},
{"p":"R","m":1.59,"lat":38.52,"s":"0","a":0},{"p":"R","m":6.42,"lat":36.67,"s":"20","a":0},{"p":"R","m":5.61,"lat":31.94,"s":"40","a":0},{"p":"R","m":10.48,"lat":31.3,"s":"20","a":30},{"p":"R","m":6.48,"lat":22.22,"s":"20","a":0},{"p":"R","m":7.09,"lat":17.22,"s":"0","a":-30},{"p":"R","m":8.6,"lat":13.98,"s":"-20","a":25},{"p":"R","m":10.16,"lat":6.02,"s":"0","a":-45},{"p":"R","m":8.26,"lat":3.52,"s":"20","a":0}
],
"titles": [
{"p":"L","m":11.49,"lat":37.3,"s":"HR"},{"p":"R","m":11.49,"lat":37.3,"s":"IH"}
]
},
"hconcat": [
{
"width": 542, "height": 432,
"resolve": {"axis": {"x": "independent", "y": "independent"}},
"layer": [
{"data": {"name": "lines"}, "transform": [{"filter": "datum.p == 'L' && datum.d == 0"}],
 "mark": {"type": "line", "color": "black", "strokeWidth": 1.3, "clip": true},
 "encoding": {
  "x": {"field": "m", "type": "quantitative", "scale": {"domain": [1, 12], "nice": false, "zero": false},
        "axis": {"orient": "bottom", "values": [1,2,3,4,5,6,7,8,9,10,11,12], "tickSize": 13,
                 "labelPadding": {"condition": {"test": "datum.value == 10", "value": 9}, "value": 3},
                 "labelFontSize": {"condition": {"test": "datum.value == 10", "value": 22}, "value": 28},
                 "labelOffset": {"condition": {"test": "datum.value == 10", "value": 25}, "value": 0},
                 "labelExpr": "datum.value == 10 ? 'MONTHS' : (datum.value == 11 ? '' : datum.label)"}},
  "y": {"field": "lat", "type": "quantitative", "scale": {"domain": [0, 40], "nice": false, "zero": false},
        "axis": {"orient": "left", "values": [0,5,10,15,20,25,30,35,40], "tickSize": 19, "labelPadding": 19, "labelAlign": "center", "labelFontSize": 24,
                 "labelExpr": "datum.value == 35 ? 'N' : (datum.value % 10 == 0 ? datum.value + '°' : '')"}},
  "detail": {"field": "c"},
  "order": {"field": "o", "type": "quantitative"}
 }},
{"data": {"name": "lines"}, "transform": [{"filter": "datum.p == 'L' && datum.d == 1"}],
 "mark": {"type": "line", "color": "black", "strokeWidth": 1.3, "strokeDash": [2, 2.5], "clip": true},
 "encoding": {
  "x": {"field": "m", "type": "quantitative", "axis": {"orient": "top", "values": [1,2,3,4,5,6,7,8,9,10,11,12], "tickSize": 19, "labels": false}},
  "y": {"field": "lat", "type": "quantitative", "axis": {"orient": "right", "values": [0,5,10,15,20,25,30,35,40], "tickSize": 19, "labels": false}},
  "detail": {"field": "c"},
  "order": {"field": "o", "type": "quantitative"}
 }},
{"data": {"name": "labels"}, "transform": [{"filter": "datum.p == 'L'"}],
 "mark": {"type": "text", "font": "Liberation Sans", "fontWeight": "bold", "fontSize": 23, "fill": "white", "stroke": "white", "strokeWidth": 8, "baseline": "middle", "align": "center"},
 "encoding": {"x": {"field": "m", "type": "quantitative", "axis": null}, "y": {"field": "lat", "type": "quantitative", "axis": null}, "text": {"field": "s"}, "angle": {"field": "a", "type": "quantitative", "scale": null}}},
{"data": {"name": "labels"}, "transform": [{"filter": "datum.p == 'L'"}],
 "mark": {"type": "text", "font": "Liberation Sans", "fontWeight": "bold", "fontSize": 23, "fill": "black", "baseline": "middle", "align": "center"},
 "encoding": {"x": {"field": "m", "type": "quantitative", "axis": null}, "y": {"field": "lat", "type": "quantitative", "axis": null}, "text": {"field": "s"}, "angle": {"field": "a", "type": "quantitative", "scale": null}}},
{"data": {"name": "titles"}, "transform": [{"filter": "datum.p == 'L'"}],
 "mark": {"type": "text", "font": "Liberation Sans", "fontWeight": "bold", "fontStyle": "italic", "fontSize": 27, "fill": "black", "baseline": "middle", "align": "center"},
 "encoding": {"x": {"field": "m", "type": "quantitative", "axis": null}, "y": {"field": "lat", "type": "quantitative", "axis": null}, "text": {"field": "s"}}}
]
},
{
"width": 544, "height": 432,
"resolve": {"axis": {"x": "independent", "y": "independent"}},
"layer": [
{"data": {"name": "lines"}, "transform": [{"filter": "datum.p == 'R' && datum.d == 0"}],
 "mark": {"type": "line", "color": "black", "strokeWidth": 1.3, "clip": true},
 "encoding": {
  "x": {"field": "m", "type": "quantitative", "scale": {"domain": [1, 12], "nice": false, "zero": false},
        "axis": {"orient": "bottom", "values": [1,2,3,4,5,6,7,8,9,10,11,12], "tickSize": 13,
                 "labelPadding": {"condition": {"test": "datum.value == 10", "value": 9}, "value": 3},
                 "labelFontSize": {"condition": {"test": "datum.value == 10", "value": 22}, "value": 28},
                 "labelOffset": {"condition": {"test": "datum.value == 10", "value": 25}, "value": 0},
                 "labelExpr": "datum.value == 10 ? 'MONTHS' : (datum.value == 11 ? '' : datum.label)"}},
  "y": {"field": "lat", "type": "quantitative", "scale": {"domain": [0, 40], "nice": false, "zero": false},
        "axis": {"orient": "left", "values": [0,5,10,15,20,25,30,35,40], "tickSize": 19, "labelPadding": 20, "labelAlign": "center", "labelFontSize": 24,
                 "labelExpr": "datum.value == 35 ? 'N' : (datum.value % 10 == 0 ? datum.value + '°' : '')"}},
  "detail": {"field": "c"},
  "order": {"field": "o", "type": "quantitative"}
 }},
{"data": {"name": "lines"}, "transform": [{"filter": "datum.p == 'R' && datum.d == 1"}],
 "mark": {"type": "line", "color": "black", "strokeWidth": 1.3, "strokeDash": [2, 2.5], "clip": true},
 "encoding": {
  "x": {"field": "m", "type": "quantitative", "axis": {"orient": "top", "values": [1,2,3,4,5,6,7,8,9,10,11,12], "tickSize": 19, "labels": false}},
  "y": {"field": "lat", "type": "quantitative", "axis": {"orient": "right", "values": [0,5,10,15,20,25,30,35,40], "tickSize": 19, "labels": false}},
  "detail": {"field": "c"},
  "order": {"field": "o", "type": "quantitative"}
 }},
{"data": {"name": "labels"}, "transform": [{"filter": "datum.p == 'R'"}],
 "mark": {"type": "text", "font": "Liberation Sans", "fontWeight": "bold", "fontSize": 23, "fill": "white", "stroke": "white", "strokeWidth": 8, "baseline": "middle", "align": "center"},
 "encoding": {"x": {"field": "m", "type": "quantitative", "axis": null}, "y": {"field": "lat", "type": "quantitative", "axis": null}, "text": {"field": "s"}, "angle": {"field": "a", "type": "quantitative", "scale": null}}},
{"data": {"name": "labels"}, "transform": [{"filter": "datum.p == 'R'"}],
 "mark": {"type": "text", "font": "Liberation Sans", "fontWeight": "bold", "fontSize": 23, "fill": "black", "baseline": "middle", "align": "center"},
 "encoding": {"x": {"field": "m", "type": "quantitative", "axis": null}, "y": {"field": "lat", "type": "quantitative", "axis": null}, "text": {"field": "s"}, "angle": {"field": "a", "type": "quantitative", "scale": null}}},
{"data": {"name": "titles"}, "transform": [{"filter": "datum.p == 'R'"}],
 "mark": {"type": "text", "font": "Liberation Sans", "fontWeight": "bold", "fontStyle": "italic", "fontSize": 27, "fill": "black", "baseline": "middle", "align": "center"},
 "encoding": {"x": {"field": "m", "type": "quantitative", "axis": null}, "y": {"field": "lat", "type": "quantitative", "axis": null}, "text": {"field": "s"}}}
]
}
]
}
